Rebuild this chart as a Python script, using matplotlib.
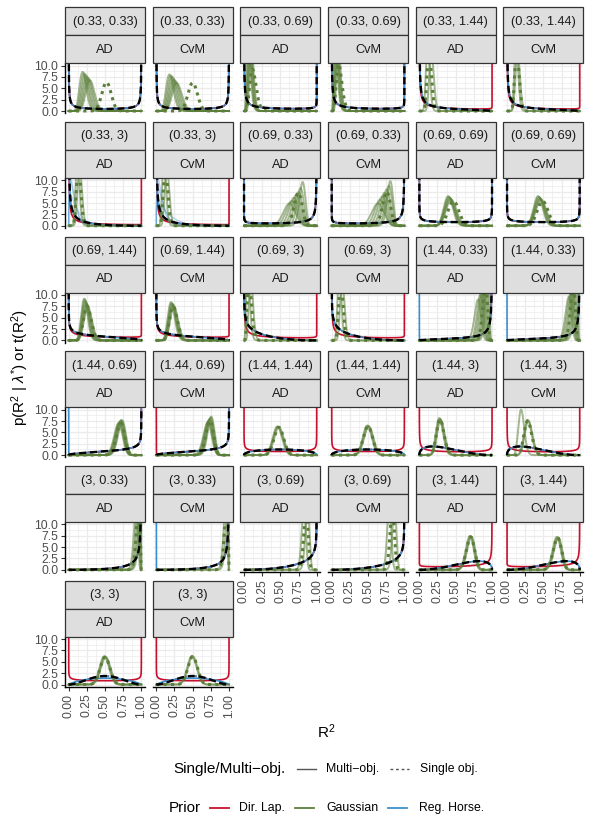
import numpy as np
import matplotlib
matplotlib.use("Agg")
import matplotlib.pyplot as plt
from matplotlib.lines import Line2D
from matplotlib.patches import Rectangle
from math import lgamma, sqrt, pi

plt.rcParams['font.family'] = ['Liberation Sans', 'DejaVu Sans']
plt.rcParams['mathtext.fontset'] = 'custom'
plt.rcParams['mathtext.rm'] = 'Liberation Sans'
plt.rcParams['mathtext.it'] = 'Liberation Sans:italic'

# facet parameters (target beta) and criteria
ab_pairs = [(0.33, 0.33), (0.33, 0.69), (0.33, 1.44), (0.33, 3),
            (0.69, 0.33), (0.69, 0.69), (0.69, 1.44), (0.69, 3),
            (1.44, 0.33), (1.44, 0.69), (1.44, 1.44), (1.44, 3),
            (3, 0.33), (3, 0.69), (3, 1.44), (3, 3)]
criteria = ["AD", "CvM"]

# Dir. Lap. fitted R2 density (beta approx.), one per panel
red_ab = [(0.33, 0.33), (0.33, 0.33), (0.33, 0.69), (0.33, 0.69),
          (0.33, 0.85), (0.33, 0.85), (0.2, 0.95), (0.2, 0.95),
          (0.69, 0.33), (0.69, 0.33), (0.69, 0.69), (0.69, 0.69),
          (0.6, 0.9), (0.6, 0.9), (0.45, 0.85), (0.45, 0.85),
          (1.44, 0.33), (1.44, 0.33), (1.44, 0.69), (1.44, 0.69),
          (0.7, 0.7), (0.7, 0.7), (0.6, 0.7), (0.6, 0.7),
          (3, 0.33), (3, 0.33), (3, 0.69), (3, 0.69),
          (0.85, 0.55), (0.85, 0.55), (0.75, 0.75), (0.75, 0.75)]
red_spike0 = [0, 0, 0, 0, 0, 0, 0, 0, 0, 0, 0, 0, 0, 0, 0, 0,
              0, 0, 0, 0.02, 0, 0, 0, 0, 0, 0, 0, 0, 0, 0, 0, 0]

# Reg. Horse. fitted R2 density (beta approx.)
blue_ab = [(0.33, 0.33), (0.33, 0.33), (0.33, 0.69), (0.33, 0.69),
           (0.33, 1.44), (0.33, 1.44), (0.33, 3), (0.33, 3),
           (0.69, 0.33), (0.69, 0.33), (0.69, 0.69), (0.69, 0.69),
           (0.69, 1.44), (0.69, 1.44), (0.69, 3), (0.69, 3),
           (1.44, 0.33), (1.44, 0.33), (1.44, 0.69), (1.44, 0.69),
           (1.44, 1.44), (1.44, 1.44), (1.44, 3), (1.44, 3),
           (3, 0.33), (3, 0.33), (3, 0.69), (3, 0.69),
           (3, 1.44), (3, 1.44), (1.8, 1.8), (1.8, 1.8)]
blue_spike0 = [0, 0, 0, 0, 0, 0, 0, 0, 0, 0, 0, 0, 0, 0, 0, 0,
               0.02, 0.02, 0.02, 0, 0, 0, 0, 0, 0, 0.02, 0, 0, 0, 0, 0, 0]
blue_extra_ab = [[], [], [], [], [], [], [(1.4, 18), (1.6, 22), (1.2, 10)],
                 [(1.5, 20), (1.3, 14), (1.1, 6)],
                 [], [], [], [], [], [], [], [], [], [], [], [], [], [], [], [],
                 [], [], [], [], [], [], [], []]

# Gaussian prior: multi-obj replicate modes / peak heights
green_mu = [[0.20, 0.22, 0.24, 0.26, 0.28, 0.30], [0.19, 0.21, 0.23, 0.25, 0.27, 0.29],
            [0.07, 0.08, 0.09, 0.10, 0.11], [0.06, 0.07, 0.08, 0.09, 0.10],
            [0.12, 0.17], [0.13, 0.15], [0.125, 0.155], [0.11, 0.15],
            [0.62, 0.65, 0.68, 0.71, 0.74, 0.77, 0.80], [0.63, 0.66, 0.69, 0.72, 0.75, 0.78, 0.80],
            [0.40, 0.41, 0.42, 0.43, 0.44], [0.43, 0.44, 0.45, 0.46, 0.47],
            [0.22, 0.23, 0.24, 0.25, 0.26, 0.27], [0.21, 0.22, 0.23, 0.24, 0.25],
            [0.06, 0.10], [0.11, 0.15],
            [0.80, 0.83, 0.85, 0.87, 0.89, 0.91, 0.93], [0.84, 0.86, 0.88, 0.90, 0.92, 0.94],
            [0.68, 0.69, 0.70, 0.71, 0.72, 0.73], [0.70, 0.71, 0.72, 0.73, 0.74, 0.75],
            [0.46, 0.47, 0.48], [0.49, 0.50, 0.51],
            [0.28, 0.29, 0.30], [0.20, 0.29, 0.30],
            [0.92, 0.94, 0.96, 0.975], [0.945, 0.97],
            [0.82, 0.87], [0.79, 0.86],
            [0.69, 0.70, 0.71], [0.68, 0.69, 0.70],
            [0.49, 0.50, 0.51], [0.49, 0.50]]
green_peak = [[8.6, 8.3, 8.0, 7.6, 7.2, 6.8], [8.0, 7.8, 7.5, 7.0, 6.6, 6.2],
              [14, 15, 14, 13, 14], [14, 15, 14, 13, 14],
              [15, 13], [15, 13], [15, 13], [15, 13],
              [5.0, 5.5, 6.2, 6.8, 7.4, 8.3, 9.6], [5.0, 5.8, 6.5, 7.3, 8.0, 8.8, 9.8],
              [6.6, 6.4, 6.2, 6.0, 5.8], [6.6, 6.4, 6.2, 6.0, 5.8],
              [9.2, 9.0, 8.6, 8.2, 7.8, 7.4], [8.4, 8.2, 8.0, 7.8, 7.5],
              [16, 14], [15, 13],
              [9, 10, 11, 12, 13, 14, 15], [9.5, 10, 11, 12, 13, 14],
              [7.0, 7.2, 7.4, 7.6, 7.8, 7.6], [7.2, 7.5, 7.8, 8.0, 8.3, 8.5],
              [6.4, 6.3, 6.2], [6.6, 6.5, 6.4],
              [8.2, 8.0, 7.8], [10, 7.8, 7.6],
              [14, 16, 17, 18], [16, 18],
              [14, 14], [14, 14],
              [7.5, 7.4, 7.3], [7.3, 7.2, 7.1],
              [6.3, 6.2, 6.1], [6.4, 6.3]]
# Gaussian prior: single-obj
green_dot_mu = [0.52, 0.50, 0.13, 0.11, 0.14, 0.14, 0.14, 0.13, 0.74, 0.75, 0.47, 0.49,
                0.26, 0.24, 0.08, 0.13, 0.90, 0.90, 0.71, 0.73, 0.48, 0.50, 0.29, 0.29,
                0.95, 0.955, 0.85, 0.83, 0.70, 0.69, 0.50, 0.50]
green_dot_peak = [6.4, 6.3, 9, 10, 13, 13, 13, 13, 7.3, 7.5, 5.5, 5.5,
                  7.6, 7.5, 13, 13, 12, 12, 7.0, 7.6, 6.2, 6.4, 7.9, 7.6,
                  15, 15, 13, 13, 7.3, 7.1, 6.1, 6.2]

RED = "#C8102E"
GREEN = "#5B7F3A"
BLUE = "#3A90CF"

x = np.concatenate([[0.0], np.geomspace(1e-7, 1e-3, 40), np.linspace(1.001e-3, 1 - 1.001e-3, 1500),
                    1 - np.geomspace(1e-3, 1e-7, 40), [1.0]])


def beta_pdf(a, b):
    with np.errstate(divide='ignore', invalid='ignore', over='ignore'):
        lp = (a - 1) * np.log(x) + (b - 1) * np.log1p(-x) - (lgamma(a) + lgamma(b) - lgamma(a + b))
        y = np.exp(lp)
    return np.clip(np.nan_to_num(y, nan=0.0, posinf=1e3), 0, 1e3)


def bump(m, h):
    sd = 1.0 / (h * sqrt(2 * pi))
    k = m * (1 - m) / sd ** 2 - 1
    return beta_pdf(m * k, (1 - m) * k)


W, H = 591, 827
fig = plt.figure(figsize=(W / 100, H / 100), dpi=100)

col_left = [65 + 87.67 * c for c in range(6)]
row_top = [7.3 + 114.7 * r for r in range(6)]
pw, sh, ph = 80, 28, 50

for i in range(32):
    r, c = divmod(i, 6)
    a_t, b_t = ab_pairs[i // 2]
    x0, top = col_left[c], row_top[r]
    for k, txt in enumerate([f"({a_t:g}, {b_t:g})", criteria[i % 2]]):
        y0 = top + k * sh
        fig.add_artist(Rectangle((x0 / W, 1 - (y0 + sh) / H), pw / W, sh / H,
                                 transform=fig.transFigure, facecolor="#DEDEDE",
                                 edgecolor="#333333", lw=0.9))
        fig.text((x0 + pw / 2) / W, 1 - (y0 + sh / 2 + 0.5) / H, txt, ha='center', va='center',
                 fontsize=9.2, color="#1A1A1A")

    ax = fig.add_axes([x0 / W, 1 - (top + 2 * sh + ph) / H, pw / W, ph / H])
    ax.set_xlim(-0.05, 1.05)
    ax.set_ylim(-0.5, 10.5)
    ax.set_xticks([0, 0.25, 0.5, 0.75, 1.0])
    ax.set_xticks([0.125, 0.375, 0.625, 0.875], minor=True)
    ax.set_yticks([0, 2.5, 5, 7.5, 10])
    ax.set_yticks([1.25, 3.75, 6.25, 8.75], minor=True)
    ax.set_xticklabels(["0.00", "0.25", "0.50", "0.75", "1.00"], rotation=90)
    ax.set_yticklabels(["0.0", "2.5", "5.0", "7.5", "10.0"])
    ax.grid(True, which='major', color="#EBEBEB", lw=0.9)
    ax.grid(True, which='minor', color="#EBEBEB", lw=0.5)
    ax.set_axisbelow(True)
    ax.tick_params(which='minor', length=0)
    ax.tick_params(which='major', length=2.75, width=0.8, color="#333333",
                   labelsize=8.8, labelcolor="#4D4D4D", pad=2.2)
    for s in ax.spines.values():
        s.set_visible(False)
    left = c == 0
    bottom = i >= 26
    if left:
        ax.spines['left'].set_visible(True)
        ax.spines['left'].set_linewidth(1.0)
    else:
        ax.tick_params(axis='y', length=0, labelleft=False)
    if bottom:
        ax.spines['bottom'].set_visible(True)
        ax.spines['bottom'].set_linewidth(1.0)
    else:
        ax.tick_params(axis='x', length=0, labelbottom=False)

    target = beta_pdf(a_t, b_t)
    spike = beta_pdf(0.1, 1.0)

    ra, rb = red_ab[i]
    ax.plot(x, beta_pdf(ra, rb) + red_spike0[i] * spike, color=RED, lw=1.2)
    ba, bb = blue_ab[i]
    ax.plot(x, beta_pdf(ba, bb) + blue_spike0[i] * spike, color=BLUE, lw=1.2)
    for ea, eb in blue_extra_ab[i]:
        ax.plot(x, beta_pdf(ea, eb), color=BLUE, lw=1.0, alpha=0.35)
    ax.plot(x, target, color=RED, lw=1.2, dashes=(1, 2))
    ax.plot(x, target, color=BLUE, lw=1.2, dashes=(1, 2))
    for m, h in zip(green_mu[i], green_peak[i]):
        ax.plot(x, bump(m, h), color=GREEN, lw=1.4, alpha=0.55)
    ax.plot(x, bump(green_dot_mu[i], green_dot_peak[i]), color=GREEN, lw=2.2, dashes=(1, 1.4))
    ax.plot(x, target, color="black", lw=1.7, dashes=(3, 1.6))

# axis titles
fig.text(326 / W, 1 - 732 / H, r"R$^2$", ha='center', va='center', fontsize=11)
fig.text(20 / W, 1 - 368 / H, r"p(R$^2$ | $\lambda^{*}$) or t(R$^2$)", rotation=90,
         ha='center', va='center', fontsize=11)

# legends
def key(xa, xb, y, **kw):
    fig.add_artist(Line2D([xa / W, xb / W], [1 - y / H, 1 - y / H], transform=fig.transFigure, **kw))


ly1, ly2 = 769, 808
fig.text(173 / W, 1 - ly1 / H, "Single/Multi\u2212obj.", ha='left', va='center', fontsize=11)
key(297, 316, ly1, color="#555555", lw=1.0)
fig.text(326 / W, 1 - ly1 / H, "Multi\u2212obj.", ha='left', va='center', fontsize=8.8)
key(390, 409, ly1, color="#555555", lw=1.0, dashes=(2, 2))
fig.text(420 / W, 1 - ly1 / H, "Single obj.", ha='left', va='center', fontsize=8.8)

fig.text(169 / W, 1 - ly2 / H, "Prior", ha='left', va='center', fontsize=11)
key(210, 229, ly2, color=RED, lw=1.3)
fig.text(239 / W, 1 - ly2 / H, "Dir. Lap.", ha='left', va='center', fontsize=8.8)
key(295, 314, ly2, color=GREEN, lw=1.3)
fig.text(326 / W, 1 - ly2 / H, "Gaussian", ha='left', va='center', fontsize=8.8)
key(388, 407, ly2, color=BLUE, lw=1.3)
fig.text(419 / W, 1 - ly2 / H, "Reg. Horse.", ha='left', va='center', fontsize=8.8)

fig.savefig("out.png", dpi=100, facecolor="white")
